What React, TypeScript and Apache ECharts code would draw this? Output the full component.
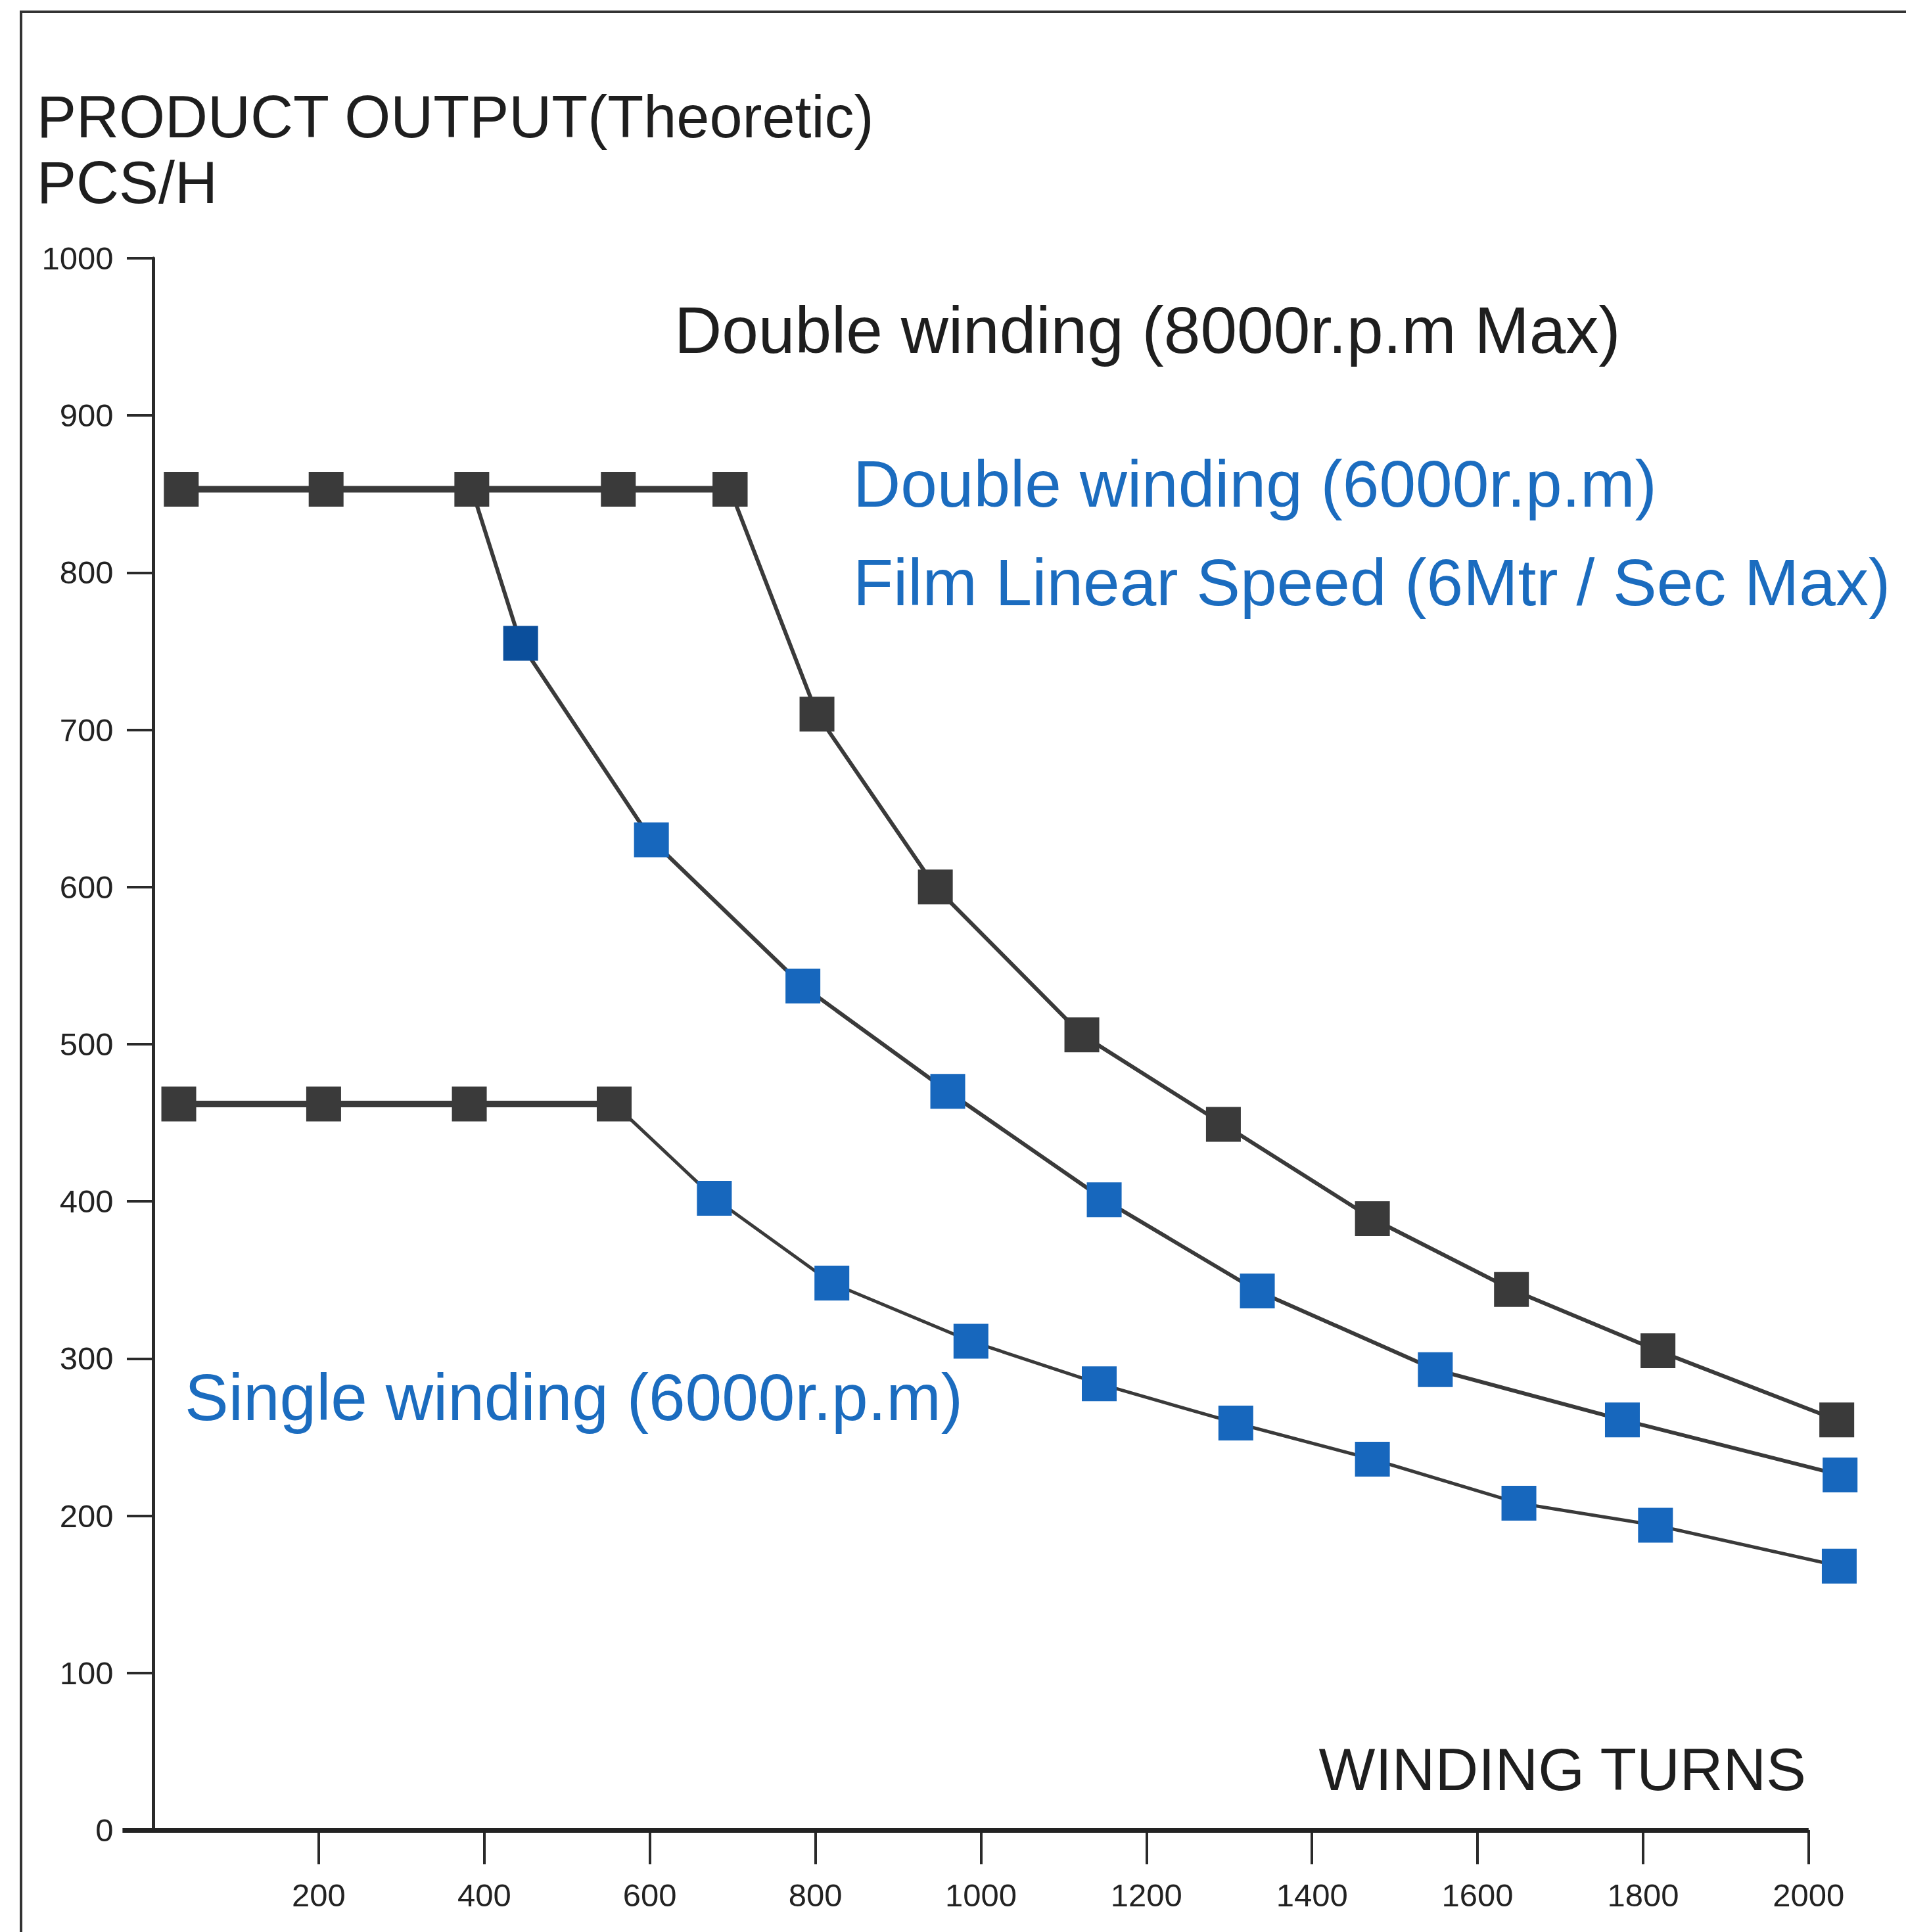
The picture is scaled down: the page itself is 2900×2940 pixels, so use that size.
import React, { useEffect, useRef } from "react";
import * as echarts from "echarts";

const TOP_X = [34, 209, 385, 562, 697, 802, 945, 1122, 1293, 1473, 1641, 1818, 2034];
const TOP_Y = [853, 853, 853, 853, 853, 710, 600, 506, 449, 389, 344, 305, 261];
const TOP_FLAT = 5;

const MID_X = [385, 444, 602, 785, 960, 1149, 1334, 1549, 1775, 2038];
const MID_Y = [853, 755, 630, 537, 470, 401, 343, 293, 261, 226];

const BOT_X = [31, 206, 382, 557, 678, 820, 988, 1143, 1308, 1473, 1650, 1815, 2037];
const BOT_Y = [462, 462, 462, 462, 402, 348, 311, 284, 259, 236, 208, 194, 168];
const BOT_FLAT = 4;

const X_TICKS = [200, 400, 600, 800, 1000, 1200, 1400, 1600, 1800, 2000];
const X_AXIS_START = -37;
const X_AXIS_END = 2000;

const DARK = "#3a3a3a";
const BLUE = "#1767bd";
const DEEP_BLUE = "#0b4f9c";
const TEXT_BLUE = "#1b6cbf";
const FONT = "'Liberation Sans', Arial, Helvetica, sans-serif";

function pts(xs: number[], ys: number[], from: number, to: number) {
  const out: number[][] = [];
  for (let i = from; i < to; i++) out.push([xs[i], ys[i]]);
  return out;
}

export default function App() {
  const ref = useRef<HTMLDivElement>(null);

  useEffect(() => {
    if (!ref.current) return;
    const chart = echarts.init(ref.current, null, { renderer: "svg" });

    const topFlat = pts(TOP_X, TOP_Y, 0, TOP_FLAT);
    const topSlope = pts(TOP_X, TOP_Y, TOP_FLAT - 1, TOP_X.length);
    const midSlope = pts(MID_X, MID_Y, 0, MID_X.length).map((p, i) =>
      i === 0
        ? { value: p, symbol: "none" }
        : { value: p, itemStyle: { color: i === 1 ? DEEP_BLUE : BLUE } }
    );
    const botFlat = pts(BOT_X, BOT_Y, 0, BOT_FLAT);
    const botSlope = pts(BOT_X, BOT_Y, BOT_FLAT - 1, BOT_X.length).map((p, i) =>
      i === 0 ? { value: p, symbol: "none" } : { value: p, itemStyle: { color: BLUE } }
    );

    const base = {
      type: "line",
      symbol: "rect",
      symbolSize: 53,
      silent: true,
      emphasis: { disabled: true },
    };

    const text = (t: string, x: number, y: number, size: number, fill: string, align = "left") => ({
      type: "text",
      x,
      y,
      silent: true,
      style: { text: t, fontSize: size, fontFamily: FONT, fill, verticalAlign: "middle", align },
    });

    chart.setOption({
      animation: false,
      backgroundColor: "#ffffff",
      grid: { left: 182.6, top: 393, width: 2670, height: 2392, containLabel: false },
      xAxis: {
        type: "value",
        min: -40,
        max: 2080,
        axisLine: { show: false },
        splitLine: { show: false },
        axisTick: {
          show: true,
          customValues: X_TICKS,
          length: 52,
          lineStyle: { color: "#2a2a2a", width: 4 },
        },
        axisLabel: {
          show: true,
          customValues: X_TICKS,
          margin: 74,
          fontSize: 49,
          color: "#222",
          fontFamily: FONT,
          formatter: (v: number) => String(v),
        },
      },
      yAxis: {
        type: "value",
        min: 0,
        max: 1000,
        interval: 100,
        axisLine: { show: true, onZero: true, lineStyle: { color: "#2a2a2a", width: 5 } },
        axisTick: { show: true, length: 40, lineStyle: { color: "#2a2a2a", width: 4 } },
        axisLabel: {
          margin: 10,
          fontSize: 49,
          color: "#222",
          fontFamily: FONT,
          formatter: (v: number) => String(v),
        },
        splitLine: { show: false },
      },
      series: [
        {
          ...base,
          name: "topFlat",
          data: topFlat,
          lineStyle: { color: DARK, width: 10 },
          itemStyle: { color: DARK },
          markLine: {
            silent: true,
            symbol: ["none", "none"],
            label: { show: false },
            emphasis: { disabled: true },
            lineStyle: { color: "#222", width: 7, type: "solid" },
            data: [[{ coord: [X_AXIS_START, 0] }, { coord: [X_AXIS_END, 0] }]],
          },
        },
        {
          ...base,
          name: "topSlope",
          data: topSlope,
          lineStyle: { color: DARK, width: 6 },
          itemStyle: { color: DARK },
        },
        {
          ...base,
          name: "midSlope",
          data: midSlope,
          lineStyle: { color: DARK, width: 6 },
          itemStyle: { color: BLUE },
        },
        {
          ...base,
          name: "botFlat",
          data: botFlat,
          lineStyle: { color: DARK, width: 10 },
          itemStyle: { color: DARK },
        },
        {
          ...base,
          name: "botSlope",
          data: botSlope,
          lineStyle: { color: DARK, width: 5 },
          itemStyle: { color: BLUE },
        },
      ],
      graphic: [
        {
          type: "rect",
          silent: true,
          shape: { x: 32, y: 18, width: 3000, height: 3000 },
          style: { fill: "none", stroke: "#333", lineWidth: 4 },
        },
        text("PRODUCT OUTPUT(Theoretic)", 56, 178, 90, "#1e1e1e"),
        text("PCS/H", 56, 278, 90, "#1e1e1e"),
        text("Double winding (8000r.p.m Max)", 1026, 502, 100, "#1e1e1e"),
        text("Double winding (6000r.p.m)", 1298, 736, 100, TEXT_BLUE),
        text("Film Linear Speed (6Mtr / Sec Max)", 1298, 886, 100, TEXT_BLUE),
        text("Single winding (6000r.p.m)", 281, 2126, 100, TEXT_BLUE),
        text("WINDING TURNS", 2748, 2692, 91, "#1e1e1e", "right"),
      ],
    });

    return () => chart.dispose();
  }, []);

  return (
    <div
      ref={ref}
      style={{ position: "fixed", left: 0, top: 0, width: 2900, height: 2940, background: "#fff" }}
    />
  );
}
